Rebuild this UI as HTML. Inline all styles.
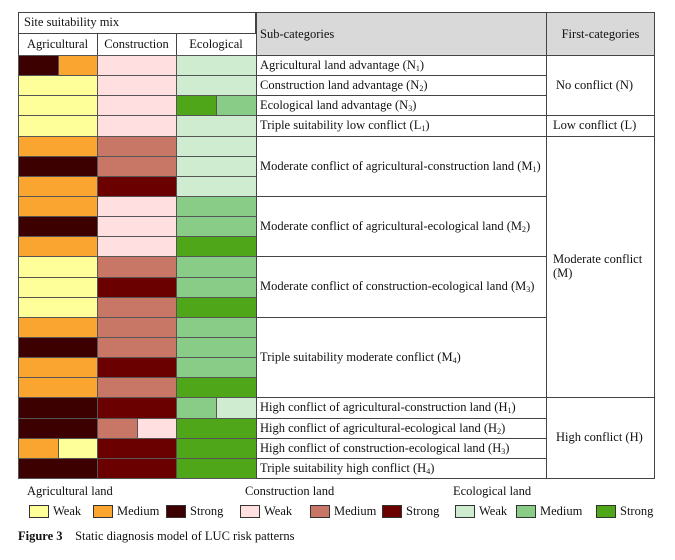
<!DOCTYPE html>
<html><head><meta charset="utf-8"><style>
body{margin:0;width:675px;height:560px;background:#fff;position:relative;font-family:"Liberation Serif",serif;color:#111;overflow:hidden}
.a{position:absolute;box-sizing:border-box}
.t{position:absolute;font-size:12.5px;white-space:nowrap;line-height:14px}
sub{font-size:8px;vertical-align:-2px}
.sw{position:absolute;width:20px;height:13px;border:1px solid #333;box-sizing:border-box}
</style></head><body>
<div id="tbl"></div>
<script>
const colors={aW:'#ffff99',aM:'#f9a530',aS:'#3d0000',cW:'#ffdfe0',cM:'#c87767',cS:'#6b0000',eW:'#cfecd0',eM:'#88cc88',eS:'#4ea618'};
const agri=['S|M','W','W','W','M','S','M','M','S','M','W','W','W','M','S','M','M','S','S','M|W','S'];
const cons=['W','W','W','W','M','M','S','W','W','W','M','S','M','M','M','S','M','S','M|W','S','S'];
const eco =['W','W','S|M','W','W','W','W','M','M','S','M','M','S','M','M','M','S','M|W','S','S','S'];
const subs=[[0,1,'Agricultural land advantage (N<sub>1</sub>)'],[1,1,'Construction land advantage (N<sub>2</sub>)'],[2,1,'Ecological land advantage (N<sub>3</sub>)'],[3,1,'Triple suitability low conflict (L<sub>1</sub>)'],[4,3,'Moderate conflict of agricultural-construction land (M<sub>1</sub>)'],[7,3,'Moderate conflict of agricultural-ecological land (M<sub>2</sub>)'],[10,3,'Moderate conflict of construction-ecological land (M<sub>3</sub>)'],[13,4,'Triple suitability moderate conflict (M<sub>4</sub>)'],[17,1,'High conflict of agricultural-construction land (H<sub>1</sub>)'],[18,1,'High conflict of agricultural-ecological land (H<sub>2</sub>)'],[19,1,'High conflict of construction-ecological land (H<sub>3</sub>)'],[20,1,'Triple suitability high conflict (H<sub>4</sub>)']];
const firsts=[[0,3,'No conflict (N)'],[3,1,'Low conflict (L)'],[4,13,'Moderate conflict<br>(M)'],[17,4,'High conflict (H)']];
const T=document.getElementById('tbl');
const X=[18,97,176,256,546,655],Y0=55,RH=(478-55)/21;
function box(x,y,w,h,bg,name,bd){const d=document.createElement('div');d.className='a';


d.style.cssText=`left:${x}px;top:${y}px;width:${w}px;height:${h}px;background:${bg};border:${bd||'1px solid #444'}`;T.appendChild(d);return d;}
function txt(x,y,html,name,extra){const d=document.createElement('div');d.className='t';


d.style.left=x+'px';d.style.top=y+'px';d.innerHTML=html;if(extra)d.style.cssText+=extra;T.appendChild(d);return d;}
box(18,12,238,22,'#fff','header-site-suitability-mix');
txt(24,15,'Site suitability mix','header-site-text');
[['Agricultural',0],['Construction',1],['Ecological',2]].forEach(([n,i])=>{box(X[i],33,X[i+1]-X[i]+1,23,'#fff','header-'+n.toLowerCase());txt(X[i],37,n,'header-'+n.toLowerCase()+'-text','width:'+(X[i+1]-X[i])+'px;text-align:center');});
box(256,12,291,44,'#d9d9d9','header-sub-categories');txt(260,27,'Sub-categories','header-sub-text');
box(546,12,109,44,'#d9d9d9','header-first-categories');txt(546,27,'First-categories','header-first-text','width:109px;text-align:center');
[[agri,'a',0],[cons,'c',1],[eco,'e',2]].forEach(([arr,p,ci])=>{arr.forEach((v,r)=>{const y=Math.round(Y0+r*RH),h=Math.round(Y0+(r+1)*RH)-y+1;const parts=v.split('|');const w=X[ci+1]-X[ci];parts.forEach((s,k)=>{const pw=w/parts.length;box(Math.round(X[ci]+k*pw),y,Math.round(pw)+1,h,colors[p+s],'cell-'+p+'-row'+(r+1)+'-'+s,'1px solid #555');});});});
subs.forEach(([r,n,h],i)=>{const y=Math.round(Y0+r*RH),hh=Math.round(Y0+(r+n)*RH)-y+1;box(256,y,291,hh,'#fff','sub-category-'+(i+1));txt(260,y+hh/2-8,h,'sub-category-label-'+(i+1));});
firsts.forEach(([r,n,h],i)=>{const y=Math.round(Y0+r*RH),hh=Math.round(Y0+(r+n)*RH)-y+1;box(546,y,109,hh,'#fff','first-category-'+(i+1));const d=txt(n==13||n==1?553:556,y+hh/2-8,h,'first-category-label-'+(i+1));if(n==13){d.style.top=(y+hh/2-15)+'px';}});
</script>
<div class="t" style="left:27px;top:484px">Agricultural land</div>
<div class="t" style="left:245px;top:484px">Construction land</div>
<div class="t" style="left:453px;top:484px">Ecological land</div>
<div>
<div class="sw" style="left:29px;top:505px;background:#ffff99"></div><div class="t" style="left:53px;top:504px">Weak</div>
<div class="sw" style="left:93px;top:505px;background:#f9a530"></div><div class="t" style="left:117px;top:504px">Medium</div>
<div class="sw" style="left:166px;top:505px;background:#3d0000"></div><div class="t" style="left:190px;top:504px">Strong</div>
<div class="sw" style="left:240px;top:505px;background:#ffdfe0"></div><div class="t" style="left:264px;top:504px">Weak</div>
<div class="sw" style="left:310px;top:505px;background:#c87767"></div><div class="t" style="left:334px;top:504px">Medium</div>
<div class="sw" style="left:382px;top:505px;background:#6b0000"></div><div class="t" style="left:406px;top:504px">Strong</div>
<div class="sw" style="left:455px;top:505px;background:#cfecd0"></div><div class="t" style="left:479px;top:504px">Weak</div>
<div class="sw" style="left:516px;top:505px;background:#88cc88"></div><div class="t" style="left:540px;top:504px">Medium</div>
<div class="sw" style="left:596px;top:505px;background:#4ea618"></div><div class="t" style="left:620px;top:504px">Strong</div>
</div>
<div class="t" style="left:18px;top:529px"><b>Figure 3</b>&nbsp;&nbsp;&nbsp; Static diagnosis model of LUC risk patterns</div>
</body></html>
